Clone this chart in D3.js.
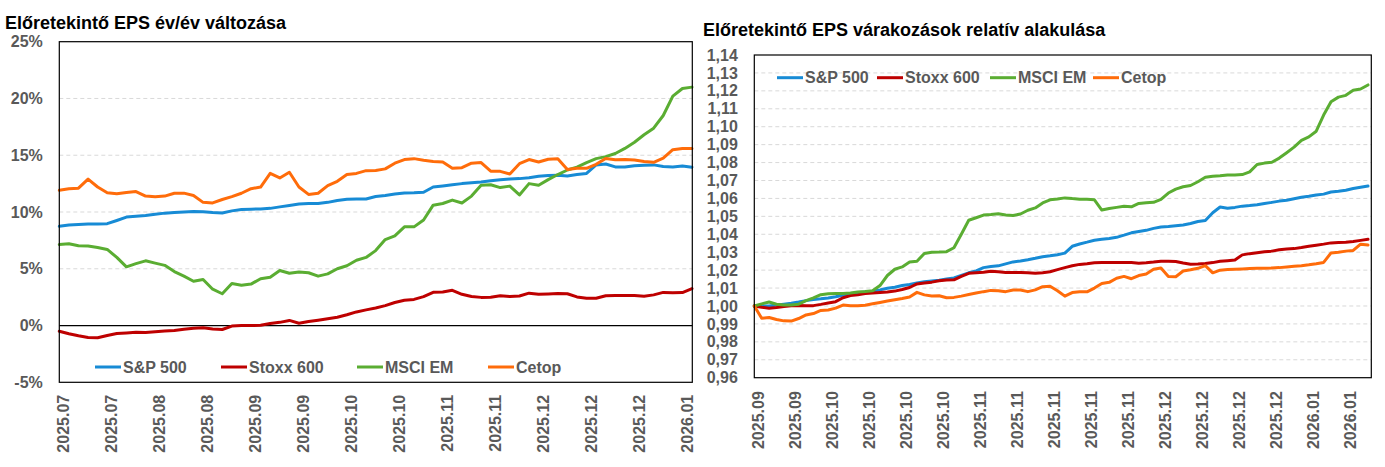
<!DOCTYPE html>
<html>
<head>
<meta charset="utf-8">
<script src="https://cdn.jsdelivr.net/npm/d3@7"></script>
<style>
  body { margin: 0; background: #fff; }
  svg { display: block; font-family: "Liberation Sans", Arial, sans-serif; }
</style>
</head>
<body>
<svg id="chart" width="1385" height="467"></svg>
<script>
// series names + colours (legend order)
var seriesNames = ["S&P 500", "Stoxx 600", "MSCI EM", "Cetop"];
var seriesColors = ["#178bd5", "#be0000", "#5aad32", "#ff6c0a"];

// left chart: forward EPS y/y change, %
var leftLabels = ["2025.07","2025.07","2025.08","2025.08","2025.09","2025.09","2025.10",
                  "2025.10","2025.11","2025.11","2025.12","2025.12","2025.12","2026.01"];
var leftTicks = [-5, 0, 5, 10, 15, 20, 25];

var leftSP = [8.74,8.85,8.9,8.95,8.95,8.97,9.25,9.55,9.62,9.7,
  9.8,9.9,9.95,10.0,10.05,10.02,9.95,9.92,10.1,10.22,
  10.25,10.27,10.32,10.45,10.58,10.7,10.74,10.74,10.85,11.02,
  11.12,11.15,11.15,11.36,11.46,11.58,11.68,11.7,11.74,12.2,
  12.3,12.4,12.5,12.58,12.65,12.75,12.85,12.9,12.94,13.02,
  13.15,13.22,13.23,13.18,13.3,13.4,14.15,14.23,13.97,13.97,
  14.08,14.12,14.15,14.0,13.97,14.05,13.95];
var leftStoxx = [-0.5,-0.72,-0.9,-1.05,-1.08,-0.88,-0.7,-0.65,-0.6,-0.62,
  -0.55,-0.48,-0.43,-0.32,-0.24,-0.2,-0.3,-0.35,-0.05,0.0,
  0.0,0.02,0.18,0.28,0.45,0.2,0.35,0.47,0.6,0.73,
  0.95,1.2,1.38,1.55,1.75,2.03,2.23,2.3,2.55,2.93,
  2.95,3.1,2.75,2.55,2.48,2.5,2.63,2.55,2.6,2.85,
  2.75,2.78,2.82,2.8,2.52,2.4,2.4,2.62,2.64,2.64,
  2.64,2.58,2.7,2.92,2.88,2.9,3.25];
var leftMSCI = [7.13,7.2,7.02,7.0,6.88,6.7,6.0,5.17,5.45,5.7,
  5.5,5.3,4.75,4.35,3.9,4.05,3.2,2.8,3.7,3.55,
  3.65,4.12,4.25,4.85,4.6,4.72,4.65,4.35,4.55,5.0,
  5.27,5.75,6.0,6.6,7.57,7.9,8.69,8.69,9.3,10.6,
  10.75,11.05,10.79,11.4,12.35,12.4,12.15,12.28,11.5,12.5,
  12.35,12.85,13.3,13.7,13.95,14.35,14.7,14.88,15.15,15.6,
  16.14,16.8,17.38,18.5,20.2,20.88,21.0];
var leftCetop = [11.91,12.05,12.1,12.9,12.2,11.7,11.6,11.72,11.8,11.4,
  11.35,11.4,11.65,11.66,11.45,10.85,10.8,11.1,11.35,11.65,
  12.05,12.2,13.4,13.0,13.5,12.2,11.55,11.65,12.32,12.7,
  13.3,13.4,13.64,13.66,13.8,14.3,14.62,14.7,14.55,14.45,
  14.4,13.85,13.9,14.3,14.35,13.6,13.58,13.35,14.25,14.62,
  14.4,14.65,14.7,13.75,13.85,13.85,14.2,14.72,14.6,14.62,
  14.58,14.45,14.38,14.75,15.49,15.6,15.6];

// right chart: relative forward EPS expectations (start = 1)
var rightLabels = ["2025.09","2025.09","2025.10","2025.10","2025.10","2025.10","2025.11","2025.11",
                   "2025.11","2025.11","2025.11","2025.12","2025.12","2025.12","2025.12","2026.01","2026.01"];
var rightTicks = [0.96,0.97,0.98,0.99,1.00,1.01,1.02,1.03,1.04,1.05,1.06,1.07,1.08,1.09,1.10,1.11,1.12,1.13,1.14];

var rightSP = [1.0,1.0,1.0,1.0005,1.001,1.0015,1.0022,1.003,1.0036,1.004,
  1.0045,1.0052,1.006,1.0068,1.0072,1.0078,1.0082,1.009,1.0099,1.0105,
  1.0114,1.012,1.0128,1.0135,1.014,1.0144,1.015,1.0156,1.017,1.0185,
  1.0196,1.0214,1.022,1.0224,1.0235,1.0246,1.0251,1.0258,1.0266,1.0275,
  1.028,1.0286,1.0295,1.0333,1.0346,1.0356,1.0367,1.0372,1.0377,1.0383,
  1.0395,1.0408,1.0415,1.0422,1.0433,1.0441,1.0444,1.0448,1.0452,1.046,
  1.0471,1.0477,1.052,1.0552,1.0545,1.055,1.0557,1.056,1.0565,1.0572,
  1.0578,1.0585,1.059,1.0598,1.0606,1.0612,1.0619,1.0624,1.0636,1.064,
  1.0646,1.0655,1.0662,1.0669];
var rightStoxx = [1.0,0.9993,0.9988,0.9992,0.9997,1.0001,1.0003,1.0001,1.0002,1.0009,
  1.0017,1.0024,1.0046,1.0058,1.0063,1.0069,1.0072,1.0075,1.0078,1.0083,
  1.0092,1.0103,1.0123,1.0128,1.0133,1.0141,1.0145,1.0146,1.0165,1.0182,
  1.0185,1.0188,1.0194,1.0191,1.0187,1.0187,1.0187,1.0185,1.0182,1.0186,
  1.0191,1.0203,1.0214,1.0224,1.0232,1.0236,1.0241,1.0242,1.0243,1.0243,
  1.0243,1.0242,1.0238,1.0241,1.0245,1.025,1.025,1.0248,1.024,1.0233,
  1.0234,1.0237,1.0242,1.0249,1.0253,1.0256,1.0285,1.0292,1.0297,1.0302,
  1.0306,1.0314,1.0318,1.032,1.0326,1.0333,1.0339,1.0345,1.0352,1.0354,
  1.0356,1.036,1.0366,1.0372];
var rightMSCI = [1.0,1.0012,1.0022,1.001,1.0005,1.0005,1.001,1.003,1.0045,1.0063,
  1.0068,1.007,1.007,1.0073,1.0078,1.0081,1.0085,1.0114,1.017,1.0205,
  1.0218,1.0245,1.025,1.0293,1.03,1.0301,1.0303,1.0325,1.04,1.0478,
  1.0492,1.0507,1.051,1.0515,1.0508,1.0505,1.0513,1.0534,1.0547,1.0575,
  1.0592,1.0597,1.0603,1.0599,1.0596,1.0596,1.0592,1.0535,1.0544,1.055,
  1.0556,1.0553,1.0572,1.0576,1.0578,1.0595,1.063,1.0652,1.0665,1.0672,
  1.0693,1.0718,1.0724,1.0726,1.073,1.0731,1.0733,1.0748,1.0789,1.0797,
  1.0802,1.0825,1.0855,1.0886,1.0924,1.0943,1.0975,1.1065,1.1139,1.1165,
  1.1175,1.1203,1.121,1.1233];
var rightCetop = [1.0,0.9932,0.9936,0.9925,0.9917,0.9916,0.993,0.995,0.9958,0.9975,
  0.9978,0.9988,1.0005,1.0002,1.0002,1.0004,1.0012,1.002,1.0028,1.0035,
  1.0042,1.005,1.0076,1.0062,1.0056,1.0057,1.0046,1.0048,1.0055,1.0064,
  1.0072,1.008,1.0087,1.0085,1.008,1.0089,1.0089,1.008,1.009,1.0108,
  1.011,1.0085,1.0055,1.0075,1.008,1.0079,1.01,1.0125,1.0132,1.0155,
  1.0165,1.0152,1.017,1.0178,1.0205,1.0212,1.0165,1.0163,1.0195,1.0202,
  1.021,1.0225,1.0185,1.02,1.0203,1.0205,1.0207,1.0209,1.021,1.0211,
  1.0212,1.0214,1.0218,1.0222,1.0225,1.023,1.0236,1.0243,1.0296,1.03,
  1.0306,1.031,1.0345,1.034];

var svg = d3.select("#chart");
var textGray = "#595959";

function drawPanel(p) {
  var n = p.series[0].length;
  var x = d3.scaleLinear().domain([0, n - 1]).range([p.left, p.lineEnd]);
  var y = d3.scaleLinear().domain(p.yDomain).range([p.bottom, p.top]);
  var g = svg.append("g");

  // title
  g.append("text")
    .attr("x", p.titleX)
    .attr("y", p.titleY)
    .style("font-size", p.titleSize + "px")
    .style("font-weight", "bold")
    .attr("fill", "#000")
    .text(p.title);

  // dashed gridlines
  g.selectAll(".grid")
    .data(p.yTicks.filter(function(d) { return d !== p.yDomain[0] && d !== p.yDomain[1] && d !== p.zeroLine; }))
    .enter().append("line")
    .attr("x1", p.left).attr("x2", p.right)
    .attr("y1", function(d) { return y(d); })
    .attr("y2", function(d) { return y(d); })
    .attr("stroke", "#d9d9d9")
    .attr("stroke-width", 1)
    .attr("stroke-dasharray", "4,3");

  if (p.zeroLine !== undefined) {
    g.append("line")
      .attr("x1", p.left).attr("x2", p.right)
      .attr("y1", y(p.zeroLine)).attr("y2", y(p.zeroLine))
      .attr("stroke", "#000").attr("stroke-width", 1.2);
  }

  // Y axis
  var yAxis = g.append("g")
    .attr("transform", "translate(" + p.left + ",0)")
    .call(d3.axisLeft(y).tickValues(p.yTicks).tickFormat(p.yFormat).tickSize(0).tickPadding(16.5));
  yAxis.select(".domain").remove();
  yAxis.selectAll("text")
    .attr("fill", textGray)
    .style("font-size", "16px")
    .style("font-weight", "bold")
    .style("font-family", "'Liberation Sans', Arial, sans-serif");

  // X axis (rotated labels)
  var tickPos = p.xLabels.map(function(d, j) { return p.tickOffset + 5 * j; });
  var xAxis = g.append("g")
    .attr("transform", "translate(0," + p.bottom + ")")
    .call(d3.axisBottom(x).tickValues(tickPos)
      .tickFormat(function(d, j) { return p.xLabels[j]; }).tickSize(0));
  xAxis.select(".domain").remove();
  xAxis.selectAll("text")
    .attr("transform", "rotate(-90)")
    .attr("x", -p.labelGap)
    .attr("y", 0)
    .attr("dy", "0.36em")
    .style("text-anchor", "end")
    .attr("fill", textGray)
    .style("font-size", "16px")
    .style("font-weight", "bold")
    .style("font-family", "'Liberation Sans', Arial, sans-serif");

  // lines
  var line = d3.line()
    .x(function(d, i) { return x(i); })
    .y(function(d) { return y(d); });
  p.series.forEach(function(s, k) {
    g.append("path")
      .datum(s)
      .attr("d", line)
      .attr("fill", "none")
      .attr("stroke", seriesColors[k])
      .attr("stroke-width", 3)
      .attr("stroke-linejoin", "round")
      .attr("stroke-linecap", "round");
  });

  // plot frame
  g.append("rect")
    .attr("x", p.left).attr("y", p.top)
    .attr("width", p.right - p.left).attr("height", p.bottom - p.top)
    .attr("fill", "none").attr("stroke", "#000").attr("stroke-width", 1.2);

  // legend
  p.legendX.forEach(function(lx, k) {
    g.append("line")
      .attr("x1", lx).attr("x2", lx + 26)
      .attr("y1", p.legendY).attr("y2", p.legendY)
      .attr("stroke", seriesColors[k]).attr("stroke-width", 3);
    g.append("text")
      .attr("x", lx + 28)
      .attr("y", p.legendY)
      .attr("dy", "0.36em")
      .attr("fill", textGray)
      .style("font-size", "16px")
      .style("font-weight", "bold")
      .text(seriesNames[k]);
  });
}

drawPanel({
  title: "Előretekintő EPS év/év változása",
  titleX: 5, titleY: 29, titleSize: 18,
  left: 59.3, right: 692.3, lineEnd: 692, top: 41.7, bottom: 382.3,
  yDomain: [-5, 25], yTicks: leftTicks, zeroLine: 0,
  yFormat: function(d) { return d + "%"; },
  xLabels: leftLabels, tickOffset: 0.4, labelGap: 12.5,
  series: [leftSP, leftStoxx, leftMSCI, leftCetop],
  legendX: [95, 221, 357, 488], legendY: 367
});

drawPanel({
  title: "Előretekintő EPS várakozások relatív alakulása",
  titleX: 703, titleY: 36, titleSize: 18,
  left: 754.3, right: 1371.3, lineEnd: 1368, top: 55, bottom: 377.7,
  yDomain: [0.96, 1.14], yTicks: rightTicks,
  yFormat: function(d) { return d3.format(".2f")(d).replace(".", ","); },
  xLabels: rightLabels, tickOffset: 0.5, labelGap: 13.5,
  series: [rightSP, rightStoxx, rightMSCI, rightCetop],
  legendX: [777, 877, 990, 1093], legendY: 77.7
});
</script>
</body>
</html>
